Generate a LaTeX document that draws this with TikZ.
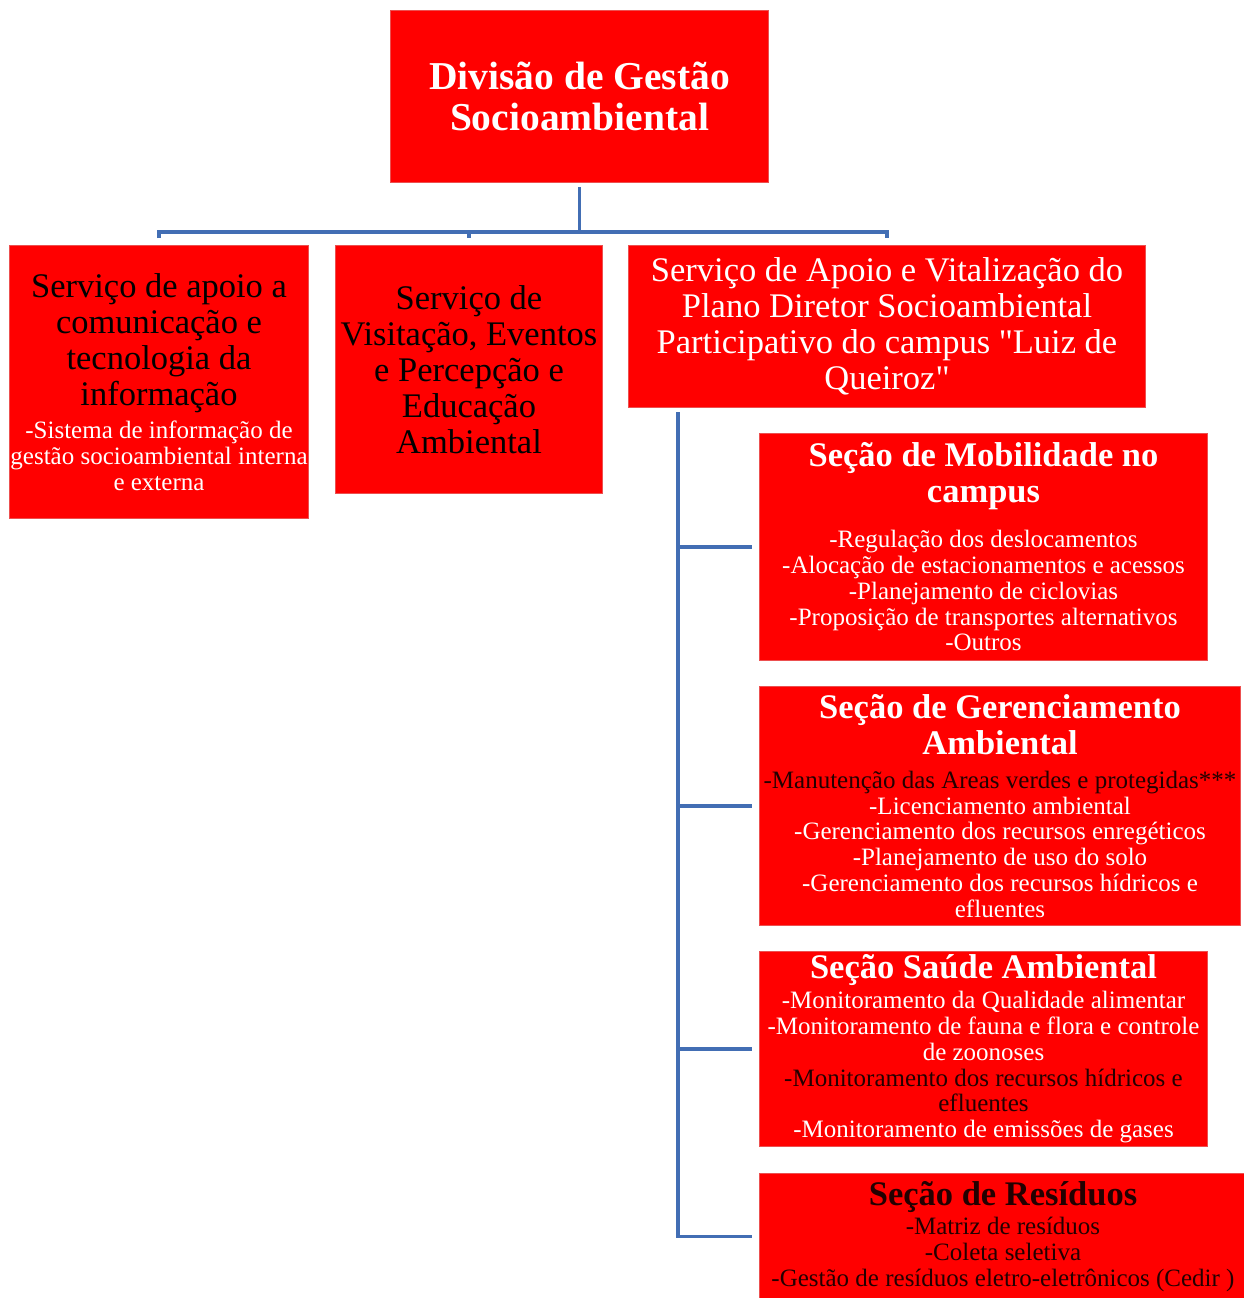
\documentclass[tikz,border=0pt]{standalone}
\usepackage{fontspec}
\setmainfont{Liberation Serif}
\definecolor{boxred}{RGB}{255,0,0}
\definecolor{boxedge}{RGB}{236,80,80}
\definecolor{linkblue}{RGB}{66,110,180}
\definecolor{darktext}{RGB}{35,0,0}
\newcommand\myTopFont{\fontsize{39.5}{41}\selectfont}
\newcommand\myBigFont{\fontsize{34.5}{36}\selectfont}
\newcommand\mySmallFont{\fontsize{25}{25.8}\selectfont}
\newcommand\myStraightQuote{\XeTeXglyph\XeTeXcharglyph"22\relax}
\begin{document}
\begin{tikzpicture}[x=1pt,y=-1pt,
  redbox/.style={fill=boxred, draw=boxedge, line width=1pt, inner sep=0pt, anchor=north west},
  txt/.style={text width=620pt, align=flush center, inner sep=0pt, text=white},
  conn/.style={draw=linkblue, line width=3.6pt}]
\useasboundingbox[fill=white] (0,0) rectangle (1244,1298);

% boxes
\node[redbox, minimum width=378pt, minimum height=172pt] (top) at (390,10) {};
\node[redbox, minimum width=299pt, minimum height=273pt] (s1) at (9,245) {};
\node[redbox, minimum width=267pt, minimum height=248pt] (s2) at (335,245) {};
\node[redbox, minimum width=517pt, minimum height=162pt] (s3) at (628,245) {};
\node[redbox, minimum width=448pt, minimum height=227pt] (mob) at (759,433) {};
\node[redbox, minimum width=481pt, minimum height=239pt] (ger) at (759,686) {};
\node[redbox, minimum width=448pt, minimum height=195pt] (sau) at (759,951) {};
\node[redbox, minimum width=487pt, minimum height=126pt] (res) at (759,1173) {};

% texts
\node[txt] (topT) at (top.center) {\myTopFont\bfseries Divisão de Gestão\\Socioambiental\par};

\node[txt] (s1T) at (s1.center) {{\myBigFont\textcolor{black}{Serviço de apoio a\\comunicação e\\tecnologia da\\informação}\par}\vspace{8pt}{\mySmallFont -Sistema de informação de\\gestão socioambiental interna\\e externa\par}};

\node[txt, text=black] (s2T) at (s2.center) {\myBigFont Serviço de\\Visitação, Eventos\\e Percepção e\\Educação\\Ambiental\par};

\node[txt] (s3T) at (s3.center) {\myBigFont Serviço de Apoio e Vitalização do\\Plano Diretor Socioambiental\\Participativo do campus \myStraightQuote Luiz de\\Queiroz\myStraightQuote\par};

\node[txt] (mobT) at (mob.center) {{\myBigFont\bfseries Seção de Mobilidade no\\campus\par}\vspace{19pt}{\mySmallFont -Regulação dos deslocamentos\\-Alocação de estacionamentos e acessos\\-Planejamento de ciclovias\\-Proposição de transportes alternativos\\-Outros\par}};

\node[txt] (gerT) at (ger.center) {{\myBigFont\bfseries Seção de Gerenciamento\\Ambiental\par}\vspace{8pt}{\mySmallFont \textcolor{darktext}{-Manutenção das Areas verdes e protegidas***}\\-Licenciamento ambiental\\-Gerenciamento dos recursos enregéticos\\-Planejamento de uso do solo\\-Gerenciamento dos recursos hídricos e\\efluentes\par}};

\node[txt] (sauT) at (sau.center) {{\myBigFont\bfseries Seção Saúde Ambiental\par}\vspace{4pt}{\mySmallFont -Monitoramento da Qualidade alimentar\\-Monitoramento de fauna e flora e controle\\de zoonoses\\\textcolor{darktext}{-Monitoramento dos recursos hídricos e\\efluentes}\\-Monitoramento de emissões de gases\par}};

\node[txt, text=darktext] (resT) at (res.center) {{\myBigFont\bfseries Seção de Resíduos\par}\vspace{4pt}{\mySmallFont -Matriz de resíduos\\-Coleta seletiva\\-Gestão de resíduos eletro-eletrônicos (Cedir )\par}};

% connectors
\coordinate (trunk) at (678,412);
\draw[conn] ([yshift=-4pt]top.south) -- ([yshift=13pt]s2.north -| top.south);
\draw[conn] ([yshift=7pt]s1.north) |- ([yshift=13pt]s2.north) -| ([yshift=7pt]s3.north);
\draw[conn] ([yshift=13pt]s2.north) -- ([yshift=7pt]s2.north);
\draw[conn] (trunk) |- ([xshift=-7pt]res.west);
\draw[conn] (trunk |- mob.west) -- ([xshift=-7pt]mob.west);
\draw[conn] (trunk |- ger.west) -- ([xshift=-7pt]ger.west);
\draw[conn] (trunk |- sau.west) -- ([xshift=-7pt]sau.west);
\end{tikzpicture}
\end{document}
